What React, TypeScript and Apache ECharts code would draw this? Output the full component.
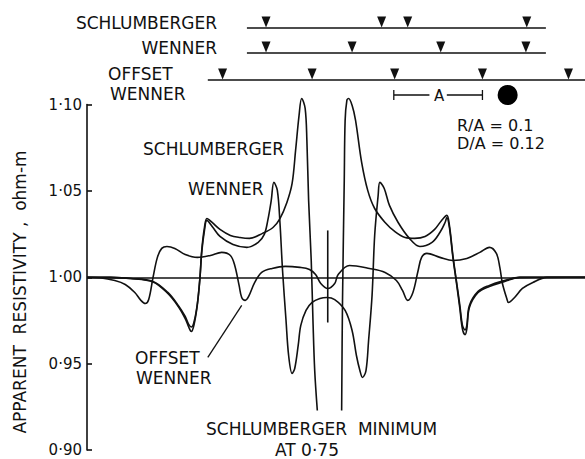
import React, { useEffect, useRef } from "react";
import * as echarts from "echarts";

// x in units of electrode spacing A (0 = centre of the traverse), y = apparent resistivity (ohm-m)
const schlumbergerLeft: number[][] = [
  [-2.76, 1.0], [-2.49, 0.9999], [-2.26, 0.9993], [-2.0, 0.9976], [-1.83, 0.9912], [-1.71, 0.9837],
  [-1.63, 0.9773], [-1.59, 0.9727], [-1.56, 0.9712], [-1.53, 0.9738], [-1.49, 0.9848], [-1.46, 1.0],
  [-1.44, 1.0155], [-1.41, 1.0283], [-1.38, 1.034], [-1.32, 1.0317], [-1.23, 1.0277], [-1.11, 1.0242],
  [-1.0, 1.023], [-0.89, 1.0225], [-0.74, 1.0254], [-0.62, 1.0288], [-0.54, 1.034], [-0.46, 1.0433],
  [-0.4, 1.0543], [-0.36, 1.0734], [-0.32, 1.0937], [-0.29, 1.1035], [-0.25, 1.0977], [-0.23, 1.0792],
  [-0.21, 1.0445], [-0.18, 1.0097], [-0.16, 0.975], [-0.14, 0.946], [-0.11, 0.9229],
];
const schlumbergerRight: number[][] = [
  [0.17, 0.9229], [0.18, 0.9866], [0.2, 1.056], [0.21, 1.0908], [0.23, 1.1024], [0.25, 1.1035],
  [0.29, 1.0995], [0.33, 1.0908], [0.4, 1.0665], [0.47, 1.0503], [0.55, 1.0398], [0.67, 1.0317],
  [0.78, 1.0265], [0.9, 1.023], [1.01, 1.0225], [1.13, 1.0236], [1.24, 1.0277], [1.32, 1.0329],
  [1.38, 1.0358], [1.41, 1.03], [1.45, 1.0126], [1.49, 0.9981], [1.53, 0.9837], [1.56, 0.9721],
  [1.59, 0.9695], [1.61, 0.9721], [1.64, 0.9837], [1.74, 0.9918], [1.87, 0.9953], [2.01, 0.9976],
  [2.22, 0.9999], [2.45, 1.0], [2.97, 1.0],
];
const wenner: number[][] = [
  [-2.76, 1.0], [-2.49, 0.9999], [-2.26, 0.9993], [-2.0, 0.9973], [-1.83, 0.9906], [-1.71, 0.9831],
  [-1.63, 0.9761], [-1.59, 0.9712], [-1.56, 0.9686], [-1.53, 0.9722], [-1.49, 0.9842], [-1.46, 0.9999],
  [-1.44, 1.0144], [-1.41, 1.0265], [-1.38, 1.0329], [-1.32, 1.0294], [-1.23, 1.0236], [-1.08, 1.019],
  [-0.92, 1.0173], [-0.79, 1.0202], [-0.72, 1.0248], [-0.68, 1.0329], [-0.64, 1.0445], [-0.61, 1.0549],
  [-0.57, 1.0503], [-0.54, 1.0317], [-0.51, 1.0039], [-0.47, 0.975], [-0.44, 0.9547], [-0.4, 0.9443],
  [-0.37, 0.9472], [-0.33, 0.9605], [-0.3, 0.9721], [-0.24, 0.9808], [-0.17, 0.9854], [-0.08, 0.9877],
  [0.0, 0.9883], [0.09, 0.9871], [0.21, 0.9808], [0.29, 0.9692], [0.34, 0.9547], [0.38, 0.946],
  [0.41, 0.942], [0.45, 0.946], [0.48, 0.9634], [0.52, 0.9895], [0.55, 1.0242], [0.59, 1.0474],
  [0.61, 1.0549], [0.66, 1.0514], [0.72, 1.0416], [0.82, 1.0317], [0.95, 1.0225], [1.07, 1.0178],
  [1.21, 1.0202], [1.3, 1.0259], [1.36, 1.0317], [1.38, 1.0346], [1.41, 1.0288], [1.45, 1.0115],
  [1.49, 0.997], [1.53, 0.9819], [1.56, 0.9700], [1.59, 0.9668], [1.61, 0.9700], [1.64, 0.9825],
  [1.74, 0.9912], [1.87, 0.9947], [2.01, 0.997], [2.22, 0.9999], [2.45, 1.0], [2.97, 1.0],
];
const offsetWenner: number[][] = [
  [-2.76, 1.0], [-2.61, 0.9997], [-2.44, 0.9981], [-2.32, 0.9958], [-2.21, 0.9912], [-2.14, 0.9866],
  [-2.09, 0.9848], [-2.05, 0.9871], [-2.0, 1.0], [-1.95, 1.0115], [-1.9, 1.0167], [-1.84, 1.0178],
  [-1.75, 1.0167], [-1.63, 1.0132], [-1.49, 1.0115], [-1.34, 1.0126], [-1.21, 1.0144], [-1.11, 1.0126],
  [-1.06, 1.0068], [-1.01, 0.9953], [-0.98, 0.9883], [-0.94, 0.9866], [-0.9, 0.9889], [-0.83, 0.997],
  [-0.75, 1.0028], [-0.63, 1.0051], [-0.48, 1.0063], [-0.31, 1.0057], [-0.2, 1.0045], [-0.13, 1.0016],
  [-0.07, 0.9964], [0.01, 0.9935], [0.09, 0.9964], [0.13, 1.0016], [0.26, 1.0068], [0.49, 1.0051],
  [0.67, 1.0028], [0.8, 0.9981], [0.87, 0.9924], [0.93, 0.9866], [0.99, 0.9912], [1.05, 1.0039],
  [1.09, 1.0115], [1.15, 1.0138], [1.3, 1.0115], [1.45, 1.0097], [1.61, 1.0109], [1.76, 1.0144],
  [1.87, 1.0173], [1.95, 1.0138], [1.99, 1.0057], [2.02, 0.9964], [2.07, 0.9877], [2.09, 0.9854],
  [2.16, 0.9883], [2.25, 0.9935], [2.37, 0.997], [2.53, 0.9999], [2.76, 1.0], [2.97, 1.0],
];
const centreMark: number[][] = [[0.01, 1.0271], [0.01, 0.9738]];
const offsetPointer: number[][] = [[-1.37, 0.9536], [-0.98, 0.9837]];

const yTicks = [0.9, 0.95, 1.0, 1.05, 1.1];
const yAxisTitle = "APPARENT  RESISTIVITY ,  ohm-m";

// electrode arrays (x in A units)
const schlumbergerElectrodes = [-0.7, 0.63, 0.93, 2.3];
const wennerElectrodes = [-0.7, 0.29, 1.31, 2.29];
const offsetElectrodes = [-1.2, -0.17, 0.78, 1.79, 2.78];
const schlumbergerSpread = [-0.92, 2.52];
const wennerSpread = [-0.92, 2.52];
const offsetSpread = [-1.37, 2.97];
const spacingA = [0.77, 1.79];
const spherePos = [2.08];
const ratioLabels = ["R/A = 0.1", "D/A = 0.12"];

const X_MIN = -2.76;
const X_MAX = 2.97;
const FONT = "DejaVu Sans";
const INK = "#111";

export default function App() {
  const ref = useRef<HTMLDivElement>(null);
  useEffect(() => {
    if (!ref.current) return;
    const chart = echarts.init(ref.current, undefined, { renderer: "svg" });

    const rows = [28, 53, 80];
    const bracketY = 95;
    const curve = (name: string, data: number[][]) => ({
      name,
      type: "line",
      xAxisIndex: 0,
      yAxisIndex: 0,
      data,
      smooth: 0.35,
      showSymbol: false,
      symbol: "none",
      clip: false,
      silent: true,
      lineStyle: { color: INK, width: 1.6 },
    });
    const spreadLine = (name: string, spread: number[], y: number) => ({
      name,
      type: "line",
      xAxisIndex: 1,
      yAxisIndex: 1,
      data: spread.map((x) => [x, y]),
      symbol: "none",
      silent: true,
      lineStyle: { color: INK, width: 1.5 },
    });
    const electrodes = (name: string, xs: number[], y: number) => ({
      name,
      type: "scatter",
      xAxisIndex: 1,
      yAxisIndex: 1,
      data: xs.map((x) => [x, y]),
      symbol: "triangle",
      symbolRotate: 180,
      symbolSize: [9, 11],
      symbolOffset: [0, -6],
      silent: true,
      itemStyle: { color: INK, opacity: 1 },
    });

    const bracketData: (number[] | string)[] = [
      [spacingA[0], bracketY - 5], [spacingA[0], bracketY + 5], "-",
      [spacingA[0], bracketY], [spacingA[0] + 0.41, bracketY], "-",
      [spacingA[1] - 0.41, bracketY], [spacingA[1], bracketY], "-",
      [spacingA[1], bracketY - 5], [spacingA[1], bracketY + 5],
    ];

    const text = (t: string, x: number, y: number, align = "left", size = 17, rotation = 0) => ({
      type: "text",
      x,
      y,
      rotation,
      style: {
        text: t,
        fill: INK,
        font: `${size}px '${FONT}'`,
        textAlign: align,
        textVerticalAlign: "middle",
      },
      silent: true,
    });

    chart.setOption({
      animation: false,
      backgroundColor: "#fff",
      textStyle: { fontFamily: FONT },
      grid: [
        { left: 87, right: 0, top: 104.5, height: 345.5 },
        { left: 87, right: 0, top: 0, height: 110 },
      ],
      xAxis: [
        { type: "value", gridIndex: 0, min: X_MIN, max: X_MAX, show: false },
        { type: "value", gridIndex: 1, min: X_MIN, max: X_MAX, show: false },
      ],
      yAxis: [
        {
          type: "value",
          gridIndex: 0,
          min: yTicks[0],
          max: yTicks[yTicks.length - 1],
          interval: 0.05,
          axisLine: { show: true, onZero: false, lineStyle: { color: INK, width: 1.6 } },
          axisTick: { show: true, inside: true, length: 5, lineStyle: { color: INK, width: 1.6 } },
          axisLabel: {
            color: INK,
            fontSize: 15,
            fontFamily: FONT,
            margin: 5,
            formatter: (v: number) => v.toFixed(2).replace(".", "·"),
          },
          splitLine: { show: false },
        },
        { type: "value", gridIndex: 1, min: 0, max: 110, inverse: true, show: false },
      ],
      series: [
        {
          ...curve("Offset Wenner", offsetWenner),
          markLine: {
            silent: true,
            symbol: "none",
            label: { show: false },
            lineStyle: { color: INK, width: 1.5, type: "solid" },
            data: [{ yAxis: 1.0 }],
          },
        },
        curve("Wenner", wenner),
        curve("Schlumberger", schlumbergerLeft),
        curve("Schlumberger ", schlumbergerRight),
        { ...curve("centre", centreMark), smooth: false },
        { ...curve("pointer", offsetPointer), smooth: false, lineStyle: { color: INK, width: 1.3 } },
        spreadLine("Schlumberger spread", schlumbergerSpread, rows[0]),
        spreadLine("Wenner spread", wennerSpread, rows[1]),
        spreadLine("Offset spread", offsetSpread, rows[2]),
        electrodes("Schlumberger electrodes", schlumbergerElectrodes, rows[0]),
        electrodes("Wenner electrodes", wennerElectrodes, rows[1]),
        electrodes("Offset electrodes", offsetElectrodes, rows[2]),
        {
          name: "A",
          type: "line",
          xAxisIndex: 1,
          yAxisIndex: 1,
          data: bracketData,
          symbol: "none",
          silent: true,
          connectNulls: false,
          lineStyle: { color: INK, width: 1.3 },
        },
        {
          name: "sphere",
          type: "scatter",
          xAxisIndex: 1,
          yAxisIndex: 1,
          data: spherePos.map((x) => [x, bracketY]),
          symbol: "circle",
          symbolSize: 20,
          silent: true,
          itemStyle: { color: "#000", opacity: 1 },
        },
      ],
      graphic: [
        text(yAxisTitle, 20, 292, "center", 17, Math.PI / 2),
        text("SCHLUMBERGER", 217, 23, "right"),
        text("WENNER", 217, 48, "right"),
        text("OFFSET", 108, 74),
        text("WENNER", 110, 94),
        text("A", 439, 96, "center", 15),
        text(ratioLabels[0], 457, 125, "left", 16),
        text(ratioLabels[1], 457, 143, "left", 16),
        text("SCHLUMBERGER", 143, 149),
        text("WENNER", 188, 189),
        text("OFFSET", 135, 358),
        text("WENNER", 136, 378),
        text("SCHLUMBERGER  MINIMUM", 206, 429),
        text("AT 0·75", 275, 450),
      ],
    });
    return () => chart.dispose();
  }, []);
  return (
    <div
      ref={ref}
      style={{ position: "fixed", left: 0, top: 0, width: 585, height: 459, background: "#fff" }}
    />
  );
}
